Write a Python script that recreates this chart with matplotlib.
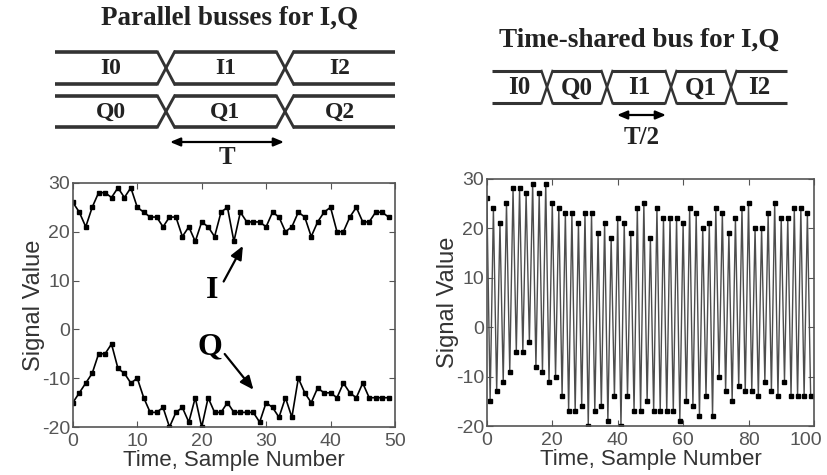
import numpy as np
import matplotlib.pyplot as plt
import matplotlib.transforms as mtransforms

plt.rcParams['font.family'] = ['Liberation Sans', 'DejaVu Sans']
plt.rcParams['axes.unicode_minus'] = False

# I and Q samples
i_vals = [26, 24, 21, 25, 28, 28, 27, 29, 27, 29,
          25, 24, 23, 23, 21, 23, 23, 19, 21, 18,
          22, 21, 19, 24, 25, 18, 24, 22, 22, 22,
          21, 24, 23, 20, 21, 24, 23, 19, 22, 24,
          25, 20, 20, 23, 25, 22, 22, 24, 24, 23]
q_vals = [-15, -13, -11, -9, -5, -5, -3, -8, -9, -11,
          -10, -14, -17, -17, -16, -20, -17, -16, -19, -14,
          -20, -14, -17, -17, -15, -17, -17, -17, -17, -19,
          -15, -16, -18, -14, -18, -10, -13, -15, -12, -13,
          -13, -14, -11, -13, -14, -11, -14, -14, -14, -14]

left_xticks = [0, 10, 20, 30, 40, 50]
right_xticks = [0, 20, 40, 60, 80, 100]
yticks = [-20, -10, 0, 10, 20, 30]

par_i_labels = ['I0', 'I1', 'I2']
par_q_labels = ['Q0', 'Q1', 'Q2']
shared_labels = ['I0', 'Q0', 'I1', 'Q1', 'I2']

# time-shared bus: I0, Q0, I1, Q1, ...
n = np.arange(len(i_vals))
t_all = np.concatenate([2 * n, 2 * n + 1])
v_all = np.concatenate([i_vals, q_vals])
order = np.argsort(t_all)
t_shared = t_all[order]
v_shared = v_all[order]

fig = plt.figure(figsize=(8.28, 4.75), dpi=100)

tick_col = '#555555'
lab_col = '#333333'


def style_axes(ax, xticks):
    ax.set_xticks(xticks)
    ax.set_yticks(yticks)
    ax.set_ylim(-20, 30)
    ax.tick_params(direction='in', top=True, right=True, length=4,
                   colors=tick_col, labelsize=14, pad=2)
    ax.tick_params(axis='x', pad=4)
    for s in ax.spines.values():
        s.set_color('#555555')
        s.set_linewidth(1.2)
    ax.set_xlabel('Time, Sample Number', fontsize=16, color=lab_col, labelpad=0)
    ax.set_ylabel('Signal Value', fontsize=17, color=lab_col, labelpad=-2)


ax1 = fig.add_axes([0.088, 0.101, 0.389, 0.514])
ax1.plot(n, i_vals, '-s', color='black', lw=1.2, ms=3)
ax1.plot(n, q_vals, '-s', color='black', lw=1.2, ms=3)
ax1.set_xlim(0, 50)
style_axes(ax1, left_xticks)
ax1.annotate('', xy=(26.6, 17.6), xytext=(23.2, 9.3),
             arrowprops=dict(arrowstyle='-|>,head_width=0.35,head_length=0.8',
                             color='black', lw=1.6))
ax1.text(21.6, 8.0, 'I', fontsize=23, fontweight='bold', family='Liberation Serif',
         ha='center', va='center')
ax1.annotate('', xy=(28.3, -12.8), xytext=(23.3, -4.6),
             arrowprops=dict(arrowstyle='-|>,head_width=0.35,head_length=0.8',
                             color='black', lw=1.6))
ax1.text(21.3, -3.6, 'Q', fontsize=23, fontweight='bold', family='Liberation Serif',
         ha='center', va='center')

ax2 = fig.add_axes([0.588, 0.103, 0.395, 0.521])
ax2.plot(t_shared, v_shared, '-', color='0.3', lw=1.0)
ax2.plot(t_shared, v_shared, 's', color='black', ms=2.8)
ax2.set_xlim(0, 100)
style_axes(ax2, right_xticks)
# keep the last tick label inside the figure
last = ax2.get_xticklabels()[-1]
last.set_horizontalalignment('right')
last.set_transform(last.get_transform() +
                   mtransforms.ScaledTranslation(8 / 100, 0, fig.dpi_scale_trans))

# timing diagrams drawn in pixel coordinates on an overlay
ov = fig.add_axes([0, 0, 1, 1])
ov.set_xlim(0, 828)
ov.set_ylim(475, 0)
ov.axis('off')
ov.patch.set_visible(False)

bus_col = '#333333'
serif = dict(family='Liberation Serif', fontweight='bold', color='#222222')


def draw_bus(bounds, ytop, ybot, w, labels, lw, fs):
    for k in range(len(bounds) - 1):
        a, b = bounds[k], bounds[k + 1]
        xa = a + w / 2 if k > 0 else a
        xb = b - w / 2 if k < len(bounds) - 2 else b
        ov.plot([xa, xb], [ytop, ytop], color=bus_col, lw=lw, solid_capstyle='butt')
        ov.plot([xa, xb], [ybot, ybot], color=bus_col, lw=lw, solid_capstyle='butt')
        ov.text((a + b) / 2, (ytop + ybot) / 2 + 1, labels[k], fontsize=fs,
                ha='center', va='center', **serif)
    for e in bounds[1:-1]:
        ov.plot([e - w / 2, e + w / 2], [ytop, ybot], color=bus_col, lw=lw * 0.8)
        ov.plot([e - w / 2, e + w / 2], [ybot, ytop], color=bus_col, lw=lw * 0.8)


# parallel busses
ov.text(230, 18, 'Parallel busses for I,Q', fontsize=19.5, ha='center', va='center', **serif)
par_bounds = [55, 166, 285, 395]
draw_bus(par_bounds, 52, 84, 17, par_i_labels, 2.6, 17)
draw_bus(par_bounds, 96, 127, 17, par_q_labels, 2.6, 17)
ov.annotate('', xy=(170, 142), xytext=(284, 142),
            arrowprops=dict(arrowstyle='<|-|>,head_width=0.25,head_length=0.6',
                            color='black', lw=1.6, shrinkA=0, shrinkB=0))
ov.text(227, 157, 'T', fontsize=18, ha='center', va='center', **serif)

# time-shared bus
ov.text(639, 40, 'Time-shared bus for I,Q', fontsize=19.5, ha='center', va='center', **serif)
sh_bounds = [492, 547, 607, 671, 731, 787]
draw_bus(sh_bounds, 71, 103, 11, shared_labels, 2.2, 18)
ov.annotate('', xy=(617, 115), xytext=(666, 115),
            arrowprops=dict(arrowstyle='<|-|>,head_width=0.25,head_length=0.6',
                            color='black', lw=1.6, shrinkA=0, shrinkB=0))
ov.text(642, 137, 'T/2', fontsize=18, ha='center', va='center', **serif)

fig.savefig('out.png', dpi=100)
